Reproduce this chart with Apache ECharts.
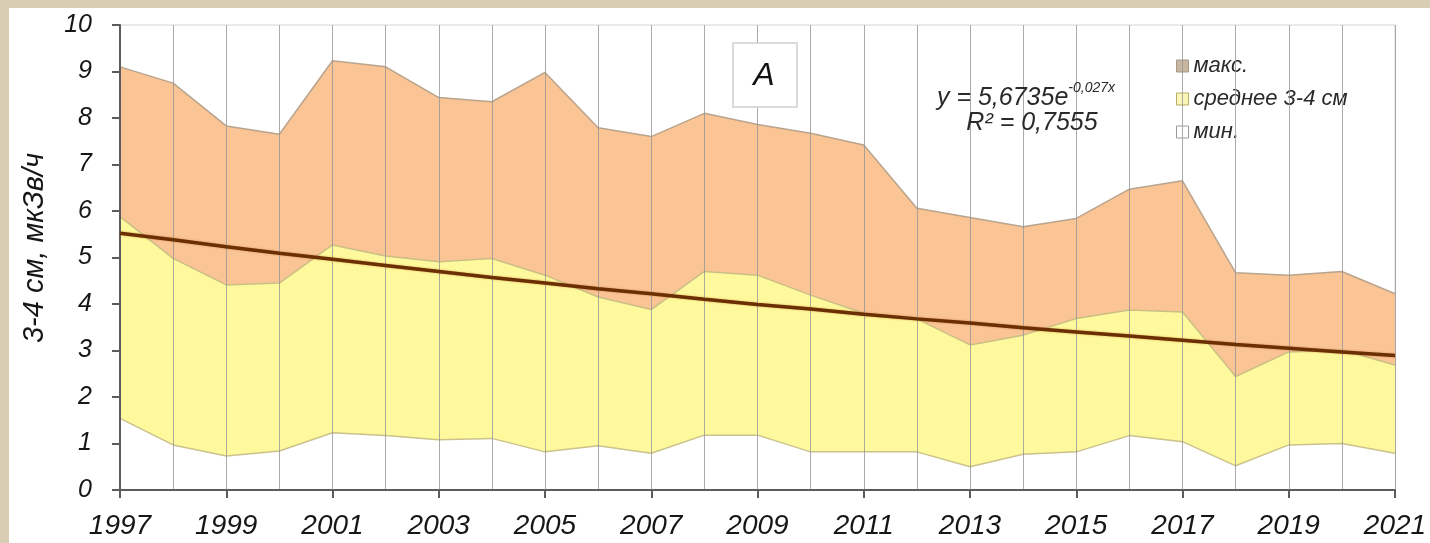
<!DOCTYPE html>
<html>
<head>
<meta charset="utf-8">
<script src="https://cdn.jsdelivr.net/npm/echarts@6/dist/echarts.min.js"></script>
<style>
  html, body { margin: 0; padding: 0; }
  body { width: 1430px; height: 543px; background: #d9ceb3; position: relative; overflow: hidden; }
  #chart { position: absolute; left: 9px; top: 8px; width: 1421px; height: 535px; background: #ffffff; }
</style>
</head>
<body>
<div id="chart"></div>
<script>
// Годы наблюдений
const years = ['1997','1998','1999','2000','2001','2002','2003','2004','2005','2006','2007','2008','2009',
               '2010','2011','2012','2013','2014','2015','2016','2017','2018','2019','2020','2021'];

// Мощность дозы на глубине 3-4 см, мкЗв/ч
const maxValues  = [9.10, 8.75, 7.83, 7.65, 9.23, 9.10, 8.44, 8.35, 8.98, 7.79, 7.60, 8.10, 7.86,
                    7.67, 7.42, 6.06, 5.86, 5.66, 5.84, 6.47, 6.65, 4.67, 4.62, 4.70, 4.22];
const meanValues = [5.88, 4.98, 4.41, 4.45, 5.27, 5.03, 4.91, 4.98, 4.62, 4.15, 3.88, 4.70, 4.62,
                    4.19, 3.80, 3.68, 3.12, 3.33, 3.69, 3.87, 3.83, 2.44, 2.97, 3.01, 2.69];
const minValues  = [1.54, 0.97, 0.73, 0.84, 1.23, 1.17, 1.08, 1.11, 0.82, 0.95, 0.79, 1.18, 1.18,
                    0.82, 0.82, 0.82, 0.50, 0.77, 0.82, 1.17, 1.04, 0.52, 0.97, 1.00, 0.79];

// Экспоненциальный тренд среднего: y = 5,6735e^(-0,027x)
const trendValues = [5.52, 5.38, 5.23, 5.09, 4.96, 4.83, 4.70, 4.57, 4.45, 4.33, 4.22, 4.10, 3.99,
                     3.89, 3.78, 3.68, 3.59, 3.49, 3.40, 3.31, 3.22, 3.13, 3.05, 2.97, 2.89];

const yTicks = { min: 0, max: 10, interval: 1 };

const FONT = '"Liberation Sans", Arial, sans-serif';
const TEXT = '#161616';

const chart = echarts.init(document.getElementById('chart'), null, { renderer: 'canvas' });

const areaSeries = (name, data, fill, line, z) => ({
  name: name,
  type: 'line',
  data: data,
  symbol: 'none',
  z: z,
  lineStyle: { color: line, width: 1.5 },
  areaStyle: { color: fill, opacity: 1 },
  itemStyle: { color: fill },
  emphasis: { disabled: true }
});

chart.setOption({
  animation: false,
  grid: {
    left: 111, top: 17, right: 35, bottom: 53,
    show: true, borderColor: '#d4d4d4', borderWidth: 1, backgroundColor: 'transparent'
  },
  xAxis: {
    type: 'category',
    data: years,
    boundaryGap: false,
    z: 5,
    axisLine: { show: true, lineStyle: { color: '#5c5c5c', width: 2 } },
    axisTick: { show: true, interval: 1, length: 8, lineStyle: { color: '#5c5c5c', width: 2 } },
    axisLabel: {
      interval: 1, margin: 22,
      fontFamily: FONT, fontStyle: 'italic', fontSize: 28, color: TEXT
    },
    splitLine: { show: true, interval: 0, lineStyle: { color: '#969696', width: 1, opacity: 0.8 } }
  },
  yAxis: {
    type: 'value',
    min: yTicks.min, max: yTicks.max, interval: yTicks.interval,
    z: 5,
    axisLine: { show: true, lineStyle: { color: '#5c5c5c', width: 2 } },
    axisTick: { show: true, length: 8, lineStyle: { color: '#5c5c5c', width: 2 } },
    axisLabel: {
      margin: 28,
      fontFamily: FONT, fontStyle: 'italic', fontSize: 25, color: TEXT
    },
    splitLine: { show: false }
  },
  legend: {
    orient: 'vertical',
    left: 1162, top: 42,
    itemWidth: 12, itemHeight: 12, itemGap: 11,
    icon: 'rect',
    selectedMode: false,
    textStyle: { fontFamily: FONT, fontStyle: 'italic', fontSize: 22, color: '#2a2a2a' },
    data: [
      { name: 'макс.', itemStyle: { color: '#c9b6a0', borderColor: '#a89886', borderWidth: 1 } },
      { name: 'среднее 3-4 см', itemStyle: { color: '#fbf6b8', borderColor: '#b5ad6a', borderWidth: 1 } },
      { name: 'мин.', itemStyle: { color: '#ffffff', borderColor: '#9a9a9a', borderWidth: 1 } }
    ]
  },
  graphic: [
    {
      type: 'text', rotation: Math.PI / 2, x: 26, y: 240,
      style: {
        text: '3-4 см, мкЗв/ч', align: 'center', verticalAlign: 'middle',
        font: 'italic 29px ' + FONT, fill: TEXT
      }
    },
    {
      type: 'rect', shape: { x: 724, y: 35, width: 64, height: 64 },
      style: { fill: '#ffffff', stroke: '#cfcfcf', lineWidth: 1.5 }, z: 10
    },
    {
      type: 'text', x: 755, y: 68, z: 11,
      style: { text: 'A', align: 'center', verticalAlign: 'middle', font: 'italic 32px ' + FONT, fill: '#111111' }
    },
    {
      type: 'text', x: 1017, y: 88, z: 11,
      style: {
        text: '{a|y = 5,6735e}{b|-0,027x}', align: 'center', verticalAlign: 'middle',
        rich: {
          a: { font: 'italic 25px ' + FONT, fill: '#2a2a2a', lineHeight: 30, verticalAlign: 'bottom' },
          b: { font: 'italic 14px ' + FONT, fill: '#2a2a2a', lineHeight: 30, verticalAlign: 'top' }
        }
      }
    },
    {
      type: 'text', x: 1023, y: 115, z: 11,
      style: { text: 'R² = 0,7555', align: 'center', verticalAlign: 'middle', font: 'italic 25px ' + FONT, fill: '#2a2a2a' }
    }
  ],
  series: [
    areaSeries('макс.', maxValues, '#fac494', '#b9a48e', 2),
    areaSeries('среднее 3-4 см', meanValues, '#fef99c', '#cbbf86', 3),
    areaSeries('мин.', minValues, '#ffffff', '#cbc28c', 4),
    {
      name: 'тренд',
      type: 'line',
      data: trendValues,
      symbol: 'none',
      z: 7,
      lineStyle: { color: '#6a3004', width: 3.5, shadowColor: 'rgba(190,100,30,0.6)', shadowBlur: 2 },
      emphasis: { disabled: true }
    }
  ]
});
</script>
</body>
</html>
